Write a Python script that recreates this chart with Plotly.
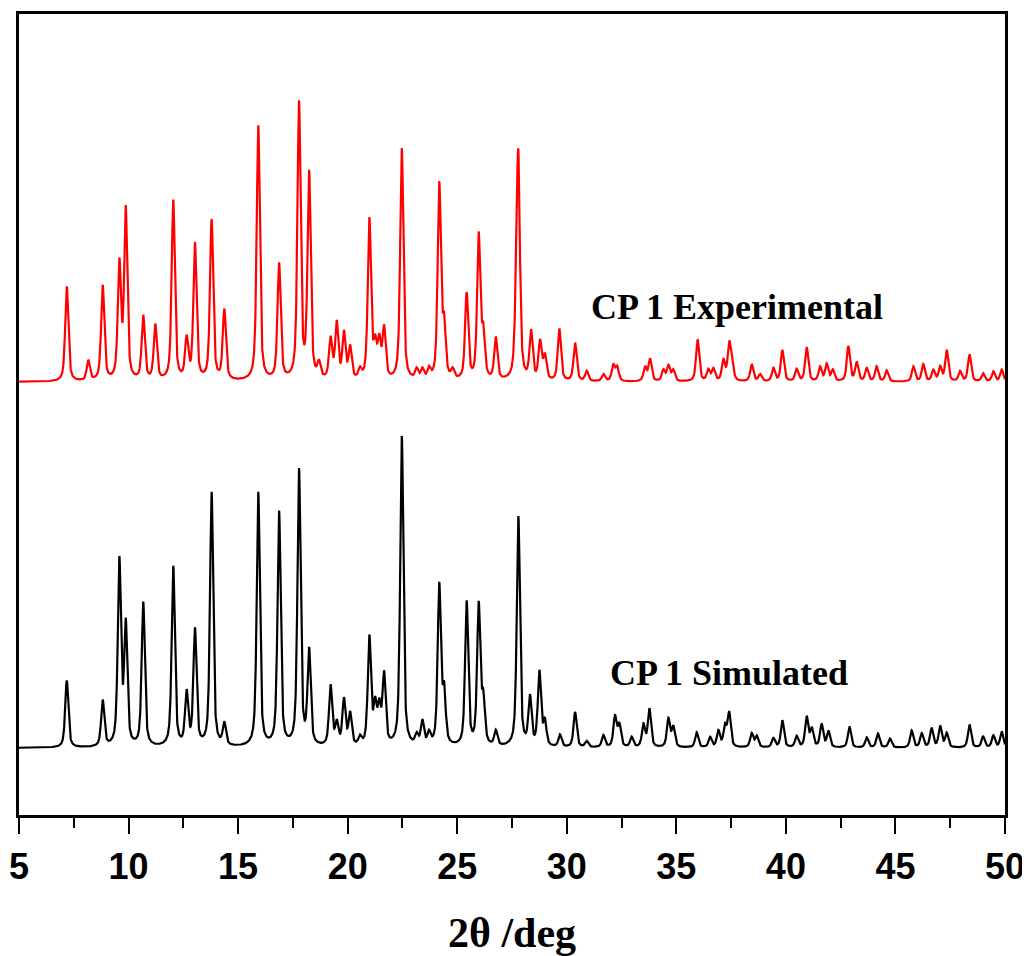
import numpy as np
import plotly.graph_objects as go

# ---- Data (2theta in degrees, intensity in arbitrary units above baseline) ----
exp_pos = [7.18, 8.16, 8.82, 9.58, 9.87, 10.67, 11.22, 12.04, 12.65, 13.03, 13.79, 14.37,
           15.92, 16.87, 17.78, 18.24, 18.69, 19.22, 19.50, 19.83, 20.11, 20.56, 20.99, 21.25,
           21.44, 21.66, 22.47, 23.15, 23.41, 23.71, 24.18, 24.40, 24.79, 25.43, 25.98, 26.19,
           26.76, 27.70, 27.79, 28.37, 28.78, 29.00, 29.66, 30.38, 30.91, 31.67, 32.12, 32.30,
           33.57, 33.80, 34.41, 34.64, 34.86, 35.97, 36.46, 36.69, 37.15, 37.41, 37.53, 38.44,
           38.82, 39.43, 39.84, 40.49, 40.95, 41.56, 41.86, 42.14, 42.85, 43.23, 43.69, 44.14,
           44.60, 45.82, 46.27, 46.73, 47.04, 47.34, 47.95, 48.38, 49.00, 49.47, 49.85]
exp_int = [95, 20, 95, 115, 170, 64, 55, 180, 40, 136, 160, 70,
           255, 116, 276, 205, 15, 40, 56, 46, 32, 9, 160, 32,
           36, 50, 232, 10, 10, 10, 195, 52, 9, 86, 144, 44,
           42, 55, 205, 48, 38, 24, 52, 38, 10, 7, 16, 14,
           14, 22, 11, 15, 11, 42, 11, 12, 20, 34, 18, 17,
           7, 13, 31, 12, 34, 14, 17, 11, 35, 19, 13, 15,
           11, 15, 17, 11, 14, 31, 10, 27, 8, 10, 12]

sim_pos = [7.18, 8.82, 9.58, 9.87, 10.67, 12.04, 12.65, 13.03, 13.79, 14.37, 15.92, 16.87,
           17.78, 18.24, 19.22, 19.50, 19.83, 20.11, 20.56, 20.99, 21.25, 21.44, 21.66, 22.47,
           23.15, 23.41, 23.71, 24.18, 24.40, 25.43, 25.98, 26.19, 26.76, 27.79, 28.32, 28.75,
           29.00, 29.69, 30.38, 30.91, 31.67, 32.20, 32.40, 32.96, 33.50, 33.77, 34.64, 34.86,
           35.93, 36.54, 36.92, 37.22, 37.41, 38.44, 38.67, 39.43, 39.84, 40.49, 40.95, 41.18,
           41.63, 41.94, 42.90, 43.69, 44.20, 44.75, 45.74, 46.20, 46.65, 47.04, 47.34, 48.38,
           49.00, 49.47, 49.85]
sim_int = [67, 46, 185, 120, 144, 180, 52, 116, 254, 22, 254, 234,
           276, 94, 60, 22, 46, 32, 8, 108, 38, 36, 70, 310,
           10, 24, 12, 160, 52, 144, 140, 44, 15, 230, 48, 74,
           24, 12, 35, 6, 12, 30, 22, 10, 22, 38, 28, 20,
           15, 10, 16, 20, 34, 14, 11, 9, 27, 11, 30, 18,
           23, 16, 21, 10, 14, 9, 17, 14, 19, 21, 14, 23,
           11, 12, 16]

EXP_OFFSET = 433
SIM_OFFSET = 67
FWHM = 0.17
ETA = 0.6

x = np.arange(5.0, 50.0001, 0.01)


def profile(pos, inten):
    y = np.zeros_like(x)
    hw = FWHM / 2.0
    for p, h in zip(pos, inten):
        d = x - p
        lor = 1.0 / (1.0 + (d / hw) ** 2)
        gau = np.exp(-np.log(2) * (d / hw) ** 2)
        y += h * (ETA * lor + (1 - ETA) * gau)
    return y


y_exp = profile(exp_pos, exp_int) + EXP_OFFSET
y_sim = profile(sim_pos, sim_int) + SIM_OFFSET

fig = go.Figure()
fig.add_trace(go.Scatter(x=x, y=y_exp, mode="lines", line=dict(color="#ff0000", width=2.2),
                         showlegend=False, name="CP 1 Experimental"))
fig.add_trace(go.Scatter(x=x, y=y_sim, mode="lines", line=dict(color="#000000", width=2.2),
                         showlegend=False, name="CP 1 Simulated"))

fig.add_annotation(x=37.77, y=508, xref="x", yref="y", text="<b>CP 1 Experimental</b>",
                   showarrow=False, font=dict(family="Liberation Serif", size=36, color="black"))
fig.add_annotation(x=37.4, y=142, xref="x", yref="y", text="<b>CP 1 Simulated</b>",
                   showarrow=False, font=dict(family="Liberation Serif", size=36, color="black"))

fig.update_layout(
    width=1022, height=948,
    margin=dict(l=11, r=25, t=6, b=141, autoexpand=False),
    paper_bgcolor="white", plot_bgcolor="white",
    xaxis=dict(
        range=[5, 50], tickmode="array", tickvals=list(range(5, 51, 5)),
        ticktext=[str(v) for v in range(5, 51, 5)],
        showgrid=False, zeroline=False, showline=True, linecolor="black", linewidth=2.5,
        mirror=True, ticks="outside", ticklen=16, tickwidth=2, tickcolor="black",
        minor=dict(tickvals=[7.5 + 5 * i for i in range(9)], ticks="outside", ticklen=10,
                   tickwidth=2, tickcolor="black"),
        tickfont=dict(family="Liberation Sans Narrow, Liberation Sans, Arial", size=36,
                      color="black", weight="bold"),
        ticklabelstandoff=2,
        automargin=False,
        title=dict(text="<b>2θ /deg</b>", font=dict(family="Liberation Serif", size=42, color="black"),
                   standoff=40),
    ),
    yaxis=dict(
        range=[0, 801], showticklabels=False, showgrid=False, zeroline=False,
        showline=True, linecolor="black", linewidth=2.5, mirror=True, ticks="",
        automargin=False,
    ),
)

fig.write_html("out.html")
